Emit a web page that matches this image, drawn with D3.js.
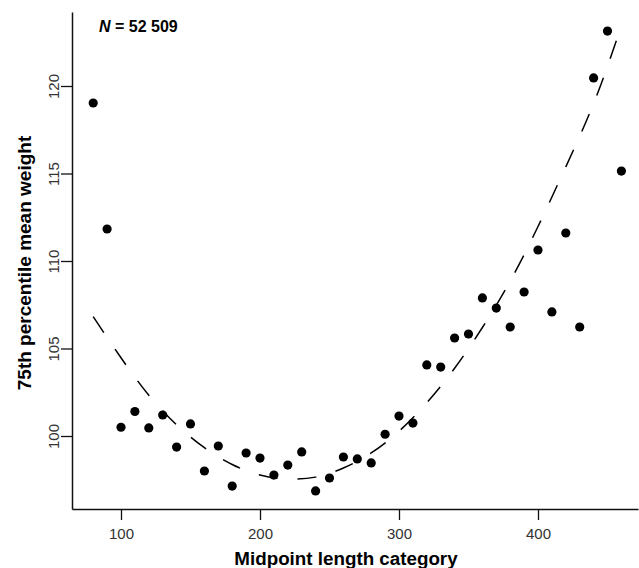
<!DOCTYPE html>
<html>
<head>
<meta charset="utf-8">
<script src="https://cdn.jsdelivr.net/npm/d3@7"></script>
<style>
  body { margin: 0; background: #fff; }
  svg { display: block; font-family: "Liberation Sans", Arial, sans-serif; }
</style>
</head>
<body>
<div id="chart"></div>
<script>
// Midpoint length categories and observed 75th percentile mean weights
const lengths = [80, 90, 100, 110, 120, 130, 140, 150, 160, 170, 180, 190, 200, 210, 220,
                 230, 240, 250, 260, 270, 280, 290, 300, 310, 320, 330, 340, 350, 360, 370,
                 380, 390, 400, 410, 420, 430, 440, 450, 460];
const weights = [119.03, 111.83, 100.5, 101.4, 100.46, 101.2, 99.37, 100.69, 98.0, 99.43,
                 97.14, 99.03, 98.74, 97.77, 98.34, 99.09, 96.86, 97.6, 98.8, 98.69,
                 98.46, 100.1, 101.14, 100.74, 104.06, 103.94, 105.6, 105.83, 107.89, 107.31,
                 106.23, 108.23, 110.63, 107.09, 111.6, 106.23, 120.46, 123.14, 115.14];

// Fitted curve
const fitX = [80, 100, 120, 140, 160, 180, 200, 220, 240, 260, 280, 300, 320, 340, 360,
              380, 400, 420, 440, 457];
const fitY = [106.82, 104.47, 102.33, 100.64, 99.33, 98.37, 97.77, 97.54, 97.65, 98.17,
              99.03, 100.27, 101.9, 103.87, 106.2, 108.86, 111.97, 115.38, 119.0, 122.73];

const xTicks = [100, 200, 300, 400];
const yTicks = [100, 105, 110, 115, 120];

const width = 639, height = 568;
const plot = {left: 72, right: 638, top: 12, bottom: 509};

const svg = d3.select("#chart")
    .append("svg")
    .attr("width", width)
    .attr("height", height);

// scales calibrated on tick positions, then stretched to the axis lines
let xScale = d3.scaleLinear().domain([100, 400]).range([121, 538]);
let yScale = d3.scaleLinear().domain([100, 120]).range([436, 86]);
xScale = d3.scaleLinear()
    .domain([xScale.invert(plot.left), xScale.invert(plot.right)])
    .range([plot.left, plot.right]);
yScale = d3.scaleLinear()
    .domain([yScale.invert(plot.bottom), yScale.invert(plot.top)])
    .range([plot.bottom, plot.top]);

// x axis
const xAxis = svg.append("g")
    .attr("transform", `translate(0,${plot.bottom})`)
    .call(d3.axisBottom(xScale).tickValues(xTicks).tickSize(11).tickSizeOuter(0).tickPadding(8));

// y axis
const yAxis = svg.append("g")
    .attr("transform", `translate(${plot.left},0)`)
    .call(d3.axisLeft(yScale).tickValues(yTicks).tickSize(11).tickSizeOuter(0));

yAxis.selectAll(".tick text")
    .attr("x", null).attr("dy", null)
    .attr("transform", "translate(-13,0) rotate(-90)")
    .attr("text-anchor", "middle");

[xAxis, yAxis].forEach(a => {
    a.select(".domain").attr("stroke", "#111").attr("stroke-width", 1.5);
    a.selectAll(".tick line").attr("stroke", "#111").attr("stroke-width", 1.3);
    a.selectAll(".tick text")
        .attr("font-family", "Liberation Sans, Arial, sans-serif")
        .attr("font-size", 15)
        .attr("fill", "#333");
});

// dashed fitted curve
const lineGenerator = d3.line()
    .x(d => xScale(d[0]))
    .y(d => yScale(d[1]))
    .curve(d3.curveNatural);

svg.append("path")
    .datum(fitX.map((x, i) => [x, fitY[i]]))
    .attr("d", lineGenerator)
    .attr("fill", "none")
    .attr("stroke", "#000")
    .attr("stroke-width", 1.5)
    .attr("stroke-dasharray", "19,20");

// points
svg.append("g")
    .selectAll("circle")
    .data(lengths.map((x, i) => [x, weights[i]]))
    .join("circle")
    .attr("cx", d => xScale(d[0]))
    .attr("cy", d => yScale(d[1]))
    .attr("r", 4.6)
    .attr("fill", "#000");

// sample size annotation
const nText = svg.append("text")
    .attr("x", 99)
    .attr("y", 32)
    .attr("font-size", 16)
    .attr("font-weight", "bold")
    .attr("fill", "#000");
nText.append("tspan").attr("font-style", "italic").text("N");
nText.append("tspan").text(" = 52 509");

// axis titles
svg.append("text")
    .attr("x", 346)
    .attr("y", 565)
    .attr("text-anchor", "middle")
    .attr("font-size", 18.8)
    .attr("font-weight", "bold")
    .text("Midpoint length category");

svg.append("text")
    .attr("transform", "translate(31,263) rotate(-90)")
    .attr("text-anchor", "middle")
    .attr("font-size", 19)
    .attr("font-weight", "bold")
    .text("75th percentile mean weight");
</script>
</body>
</html>
